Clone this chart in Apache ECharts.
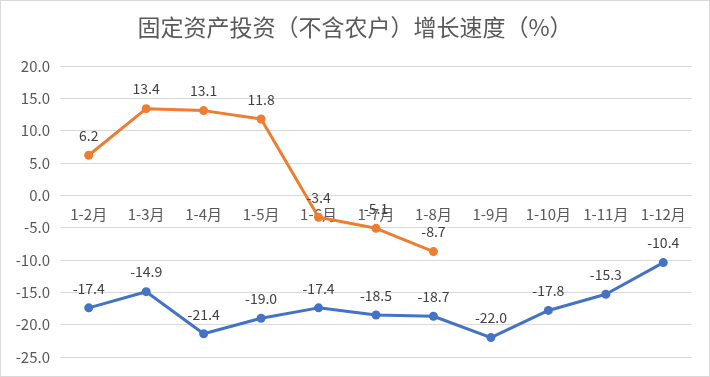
<!DOCTYPE html>
<html>
<head>
<meta charset="utf-8">
<script src="https://cdn.jsdelivr.net/npm/echarts@6/dist/echarts.min.js"></script>
<style>
html,body{margin:0;padding:0;background:#fff;}
#main{width:708px;height:375px;border:1px solid #d9d9d9;}
</style>
</head>
<body>
<div id="main"></div>
<script>
var months = ['1-2月','1-3月','1-4月','1-5月','1-6月','1-7月','1-8月','1-9月','1-10月','1-11月','1-12月'];
var series2020 = [6.2, 13.4, 13.1, 11.8, -3.4, -5.1, -8.7];
var series2019 = [-17.4, -14.9, -21.4, -19.0, -17.4, -18.5, -18.7, -22.0, -17.8, -15.3, -10.4];
var yMin = -25, yMax = 20;

var gridTop = 65, gridBottom = 19, chartH = 375;
// move the category axis up to the zero line
var plotH = chartH - gridTop - gridBottom;
var zeroOffset = -plotH * (0 - yMin) / (yMax - yMin);

var chart = echarts.init(document.getElementById('main'));
var labelStyle = {
    show: true,
    position: 'top',
    distance: 8,
    color: '#404040',
    fontSize: 14,
    fontFamily: 'Noto Sans CJK SC',
    formatter: function (p) { return p.value.toFixed(1); }
};
var option = {
    backgroundColor: '#fff',
    animation: false,
    title: {
        text: '固定资产投资（不含农户）增长速度（%）',
        left: 'center',
        top: 10,
        textStyle: {
            color: '#595959',
            fontSize: 23,
            fontWeight: 'normal',
            fontFamily: 'Noto Sans CJK SC'
        }
    },
    grid: {
        left: 59,
        right: 17,
        top: gridTop,
        bottom: gridBottom
    },
    xAxis: {
        type: 'category',
        data: months,
        boundaryGap: true,
        position: 'bottom',
        offset: zeroOffset,
        axisLine: { onZero: false, lineStyle: { color: '#d9d9d9' } },
        axisTick: { show: false },
        axisLabel: {
            interval: 0,
            color: '#595959',
            fontSize: 15,
            margin: 11,
            fontFamily: 'Noto Sans CJK SC'
        }
    },
    yAxis: {
        type: 'value',
        min: yMin,
        max: yMax,
        interval: 5,
        axisLine: { show: false },
        axisTick: { show: false },
        axisLabel: {
            color: '#595959',
            fontSize: 15,
            margin: 10,
            fontFamily: 'Noto Sans CJK SC',
            formatter: function (v) { return v.toFixed(1); }
        },
        splitLine: { lineStyle: { color: '#d9d9d9' } }
    },
    series: [
        {
            name: '2020',
            type: 'line',
            data: series2020,
            symbol: 'circle',
            symbolSize: 9,
            lineStyle: { color: '#ED7D31', width: 3 },
            itemStyle: { color: '#ED7D31' },
            label: labelStyle
        },
        {
            name: '2019',
            type: 'line',
            data: series2019,
            symbol: 'circle',
            symbolSize: 9,
            lineStyle: { color: '#4472C4', width: 3 },
            itemStyle: { color: '#4472C4' },
            label: labelStyle
        }
    ]
};
chart.setOption(option);
</script>
</body>
</html>
